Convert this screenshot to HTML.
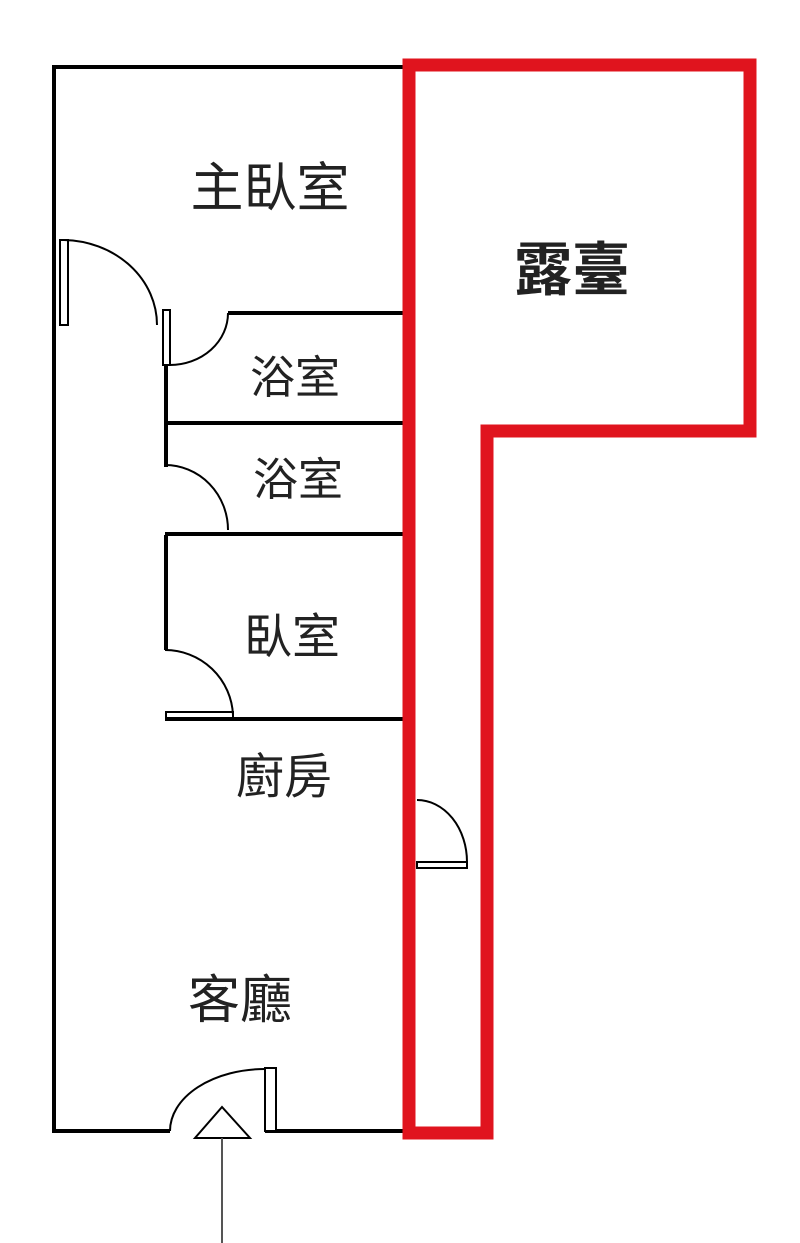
<!DOCTYPE html>
<html><head><meta charset="utf-8"><style>
html,body{margin:0;padding:0;background:#fff}
svg{display:block}
text{font-family:"Liberation Sans","Noto Sans CJK TC",sans-serif;fill:#222;text-anchor:middle}
</style></head><body>
<svg width="800" height="1243" viewBox="0 0 800 1243" xmlns="http://www.w3.org/2000/svg">
<g stroke="#000" stroke-width="4" fill="none">
<line x1="52" y1="67" x2="405" y2="67"/>
<line x1="54" y1="65" x2="54" y2="1133"/>
<line x1="52" y1="1131" x2="170" y2="1131"/>
<line x1="265" y1="1131" x2="405" y2="1131"/>
<line x1="166" y1="310" x2="166" y2="467"/>
<line x1="166" y1="535" x2="166" y2="650"/>
<line x1="228" y1="313" x2="405" y2="313"/>
<line x1="165" y1="423" x2="405" y2="423"/>
<line x1="165" y1="534" x2="405" y2="534"/>
<line x1="165" y1="719" x2="405" y2="719"/>
</g>
<g stroke="#000" stroke-width="2" fill="#fff">
<rect x="60" y="240" width="8" height="85"/>
<rect x="163" y="310" width="7" height="55"/>
<rect x="166" y="712" width="67" height="6"/>
<rect x="417" y="862" width="50" height="6"/>
<rect x="265" y="1068" width="11" height="63"/>
</g>
<g stroke="#000" stroke-width="2" fill="none">
<path d="M64 240 A95 85 0 0 1 157 325"/>
<path d="M170 365 A58 52 0 0 0 228 313"/>
<path d="M165 465 A63 65 0 0 1 228 530"/>
<path d="M165 650 A68 68 0 0 1 233 715"/>
<path d="M417 800 A50 62 0 0 1 467 862"/>
<path d="M170 1131 A95 62 0 0 1 265 1069"/>
<path d="M195 1138 L250 1138 L222 1107 Z" fill="#fff"/>
</g>
<line x1="222" y1="1138" x2="222" y2="1243" stroke="#555" stroke-width="2"/>
<path d="M409 65 L750 65 L750 431 L487 431 L487 1133 L409 1133 Z" fill="none" stroke="#e0141e" stroke-width="13" stroke-linejoin="miter"/>
<text x="270" y="206" font-size="53">主臥室</text>
<text x="572" y="290" font-size="58" font-weight="bold" fill="#333">露臺</text>
<text x="295" y="393" font-size="45">浴室</text>
<text x="298" y="495" font-size="45">浴室</text>
<text x="292" y="653" font-size="48">臥室</text>
<text x="284" y="793" font-size="48">廚房</text>
<text x="240" y="1018" font-size="52">客廳</text>
</svg>
</body></html>
